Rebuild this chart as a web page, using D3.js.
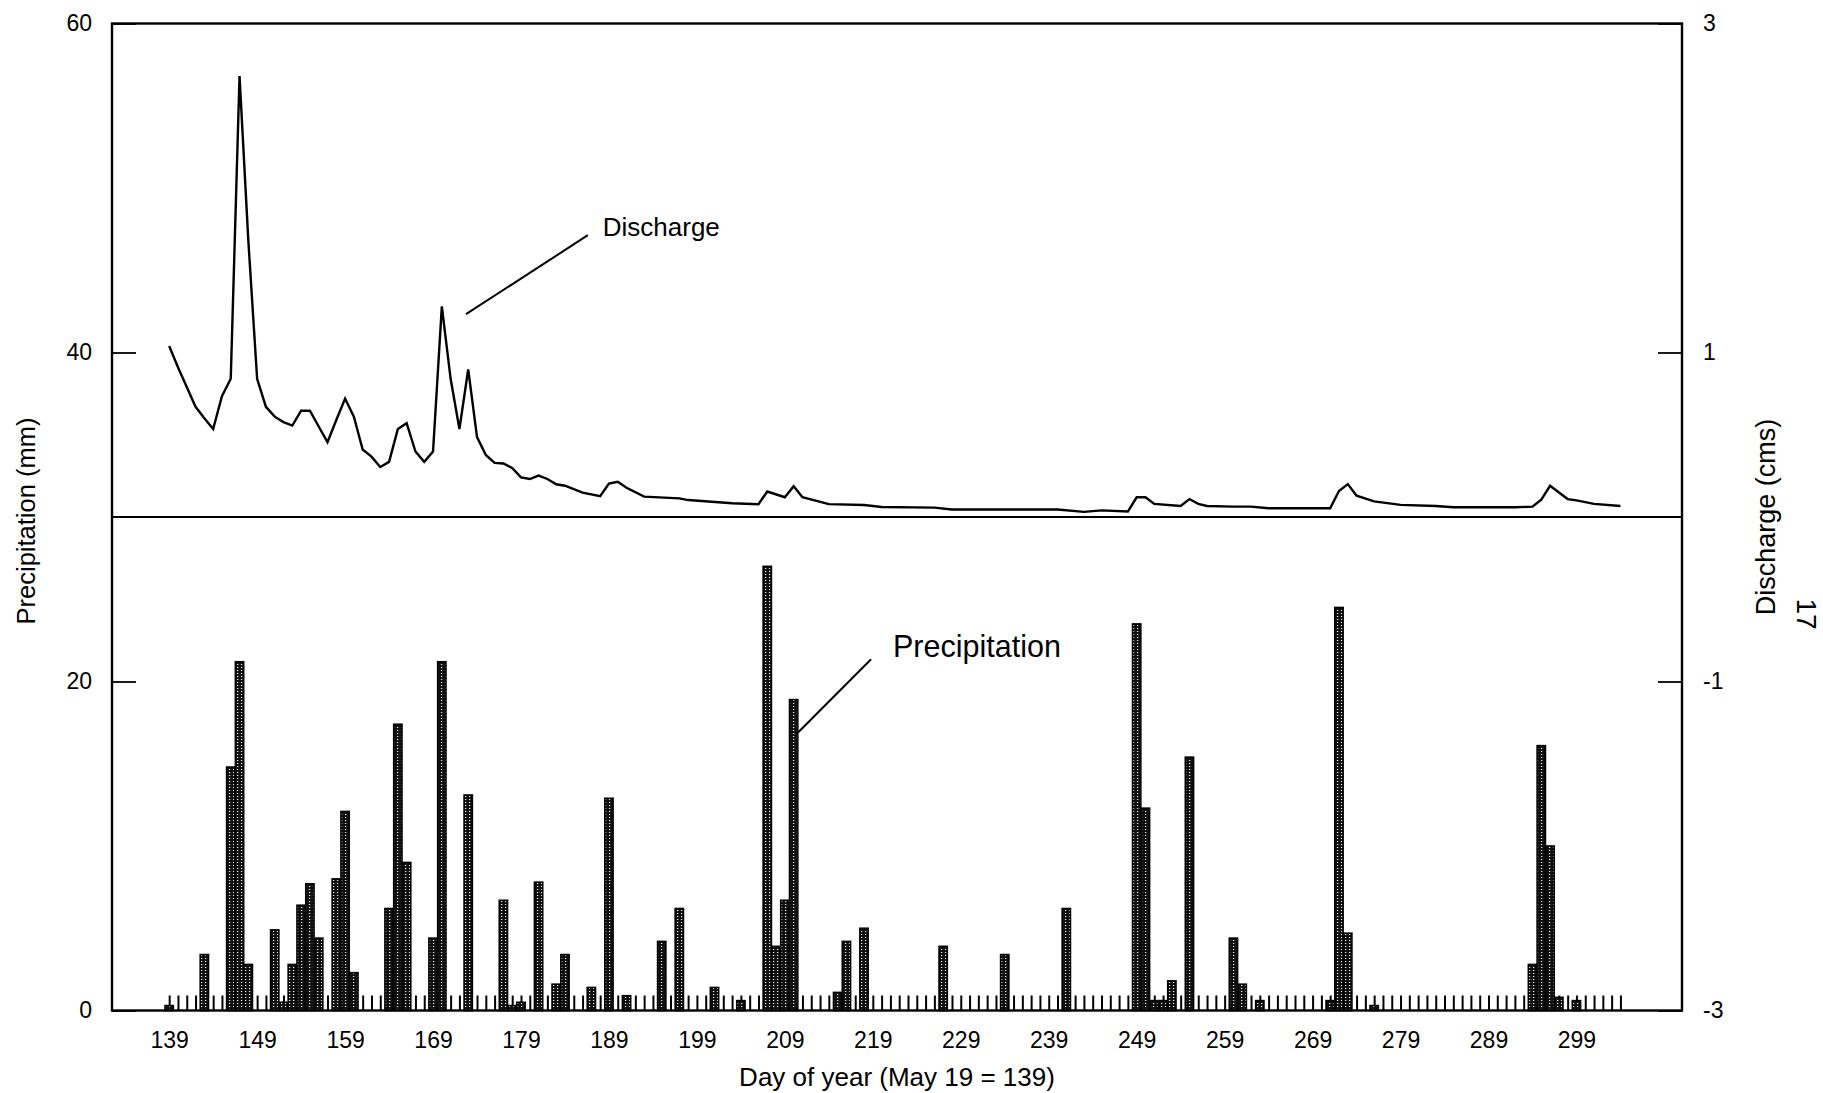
<!DOCTYPE html>
<html>
<head>
<meta charset="utf-8">
<script src="https://cdn.jsdelivr.net/npm/d3@7"></script>
<style>
  body { margin: 0; background: #fff; }
  text { font-family: "Liberation Sans", Arial, Helvetica, sans-serif; fill: #000; }
</style>
</head>
<body>
<div id="chart"></div>
<script>
// Daily precipitation (mm), only days with rain
const precipDays = [139, 143, 146, 147, 148, 151, 152, 153, 154, 155, 156, 158, 159, 160,
  164, 165, 166, 169, 170, 173, 177, 178, 179, 181, 183, 184, 187, 189, 191, 195, 197,
  201, 204, 207, 208, 209, 210, 215, 216, 218, 227, 234, 241, 249, 250, 251, 252, 253,
  255, 260, 261, 263, 271, 272, 273, 276, 294, 295, 296, 297, 299]
const precipValues = [0.3, 3.4, 14.8, 21.2, 2.8, 4.9, 0.5, 2.8, 6.4, 7.7, 4.4, 8.0, 12.1, 2.3,
  6.2, 17.4, 9.0, 4.4, 21.2, 13.1, 6.7, 0.3, 0.5, 7.8, 1.6, 3.4, 1.4, 12.9, 0.9, 4.2, 6.2,
  1.4, 0.6, 27.0, 3.9, 6.7, 18.9, 1.1, 4.2, 5.0, 3.9, 3.4, 6.2, 23.5, 12.3, 0.6, 0.6, 1.8,
  15.4, 4.4, 1.6, 0.6, 0.6, 24.5, 4.7, 0.3, 2.8, 16.1, 10.0, 0.8, 0.6]

// Discharge (cms), vertices
const dischargeDays = [139, 140, 141, 142, 143, 144, 145, 146, 147, 148, 149, 150, 151, 152,
  153, 154, 155, 156, 157, 158, 159, 160, 161, 162, 163, 164, 165, 166, 167, 168, 169, 170,
  171, 172, 173, 174, 175, 176, 177, 178, 179, 180, 181, 182, 183, 184, 186, 188, 189, 190,
  191, 193, 197, 198, 203, 206, 207, 209, 210, 211, 214, 218, 220, 226, 228, 234, 240, 243,
  245, 248, 249, 250, 251, 254, 255, 256, 257, 260, 262, 264, 271, 272, 273, 274, 276, 279,
  283, 285, 292, 294, 295, 296, 298, 299, 301, 304]
const dischargeValues = [1.04, 0.91, 0.79, 0.67, 0.60, 0.535, 0.735, 0.84, 2.68, 1.68, 0.84,
  0.67, 0.61, 0.577, 0.556, 0.646, 0.646, 0.55, 0.455, 0.59, 0.72, 0.61, 0.41, 0.367, 0.304,
  0.335, 0.535, 0.57, 0.398, 0.335, 0.398, 1.28, 0.84, 0.535, 0.897, 0.486, 0.377, 0.329,
  0.325, 0.298, 0.241, 0.231, 0.252, 0.231, 0.199, 0.19, 0.148, 0.127, 0.203, 0.214, 0.178,
  0.124, 0.113, 0.103, 0.084, 0.078, 0.155, 0.12, 0.187, 0.12, 0.078, 0.073, 0.061, 0.057,
  0.046, 0.046, 0.046, 0.031, 0.04, 0.033, 0.12, 0.12, 0.08, 0.067, 0.109, 0.08, 0.067,
  0.063, 0.063, 0.053, 0.053, 0.158, 0.2, 0.13, 0.095, 0.074, 0.067, 0.059, 0.059, 0.063,
  0.105, 0.19, 0.109, 0.101, 0.08, 0.067]

// Axis ticks
const xLabelDays = [139, 149, 159, 169, 179, 189, 199, 209, 219, 229, 239, 249, 259, 269, 279, 289, 299]
const dayTicks = d3.range(139, 305)
const precipTicks = [0, 20, 40, 60]
const dischargeTicks = [-3, -1, 1, 3]

;(function () {

  const svg = d3.select("#chart").append("svg")
      .attr("width", 1823)
      .attr("height", 1093)

  const plotLeft = 112, plotRight = 1682, plotTop = 23.5, plotBottom = 1010.5

  const x = d3.scaleLinear().domain([132.5, 311]).range([plotLeft, plotRight])
  const yP = d3.scaleLinear().domain([0, 60]).range([plotBottom, plotTop])
  const yD = d3.scaleLinear().domain([-3, 3]).range([plotBottom, plotTop])

  // stipple fill for the bars
  const pat = svg.append("defs").append("pattern")
      .attr("id", "stipple")
      .attr("patternUnits", "userSpaceOnUse")
      .attr("width", 4).attr("height", 3)
  pat.append("rect").attr("width", 4).attr("height", 3).attr("fill", "#111")
  pat.append("rect").attr("x", 1).attr("y", 1).attr("width", 1.2).attr("height", 1).attr("fill", "#fff")

  // little day ticks along the bottom
  svg.append("g")
      .attr("transform", `translate(0,${plotBottom})`)
      .call(d3.axisBottom(x).tickValues(dayTicks).tickSize(-15).tickFormat(""))
      .call(g => g.select(".domain").remove())
      .selectAll("line").attr("stroke-width", 2)

  // precipitation bars
  const bw = (x(1) - x(0)) * 0.94
  const precip = precipDays.map((d, i) => ({ day: d, v: precipValues[i] }))
  svg.append("g").selectAll("rect")
      .data(precip)
      .join("rect")
      .attr("x", d => x(d.day) - bw / 2)
      .attr("y", d => yP(d.v))
      .attr("width", bw)
      .attr("height", d => yP(0) - yP(d.v))
      .attr("fill", "url(#stipple)")
      .attr("stroke", "#000")
      .attr("stroke-width", 1.6)

  // discharge line
  const discharge = dischargeDays.map((d, i) => ({ day: d, v: dischargeValues[i] }))
  svg.append("path")
      .datum(discharge)
      .attr("fill", "none")
      .attr("stroke", "#000")
      .attr("stroke-width", 2.4)
      .attr("d", d3.line().x(d => x(d.day)).y(d => yD(d.v)))

  // frame and zero-discharge line
  svg.append("rect")
      .attr("x", plotLeft).attr("y", plotTop)
      .attr("width", plotRight - plotLeft).attr("height", plotBottom - plotTop)
      .attr("fill", "none").attr("stroke", "#000").attr("stroke-width", 2.4)
  svg.append("line")
      .attr("x1", plotLeft).attr("x2", plotRight)
      .attr("y1", yD(0)).attr("y2", yD(0))
      .attr("stroke", "#000").attr("stroke-width", 2)

  // axes
  const leftAxis = svg.append("g")
      .attr("transform", `translate(${plotLeft},0)`)
      .call(d3.axisLeft(yP).tickValues(precipTicks).tickSize(-24).tickPadding(20))
  const rightAxis = svg.append("g")
      .attr("transform", `translate(${plotRight},0)`)
      .call(d3.axisRight(yD).tickValues(dischargeTicks).tickSize(-24).tickPadding(21)
        .tickFormat(d => d < 0 ? "-" + Math.abs(d) : d))
  const bottomAxis = svg.append("g")
      .attr("transform", `translate(0,${plotBottom})`)
      .call(d3.axisBottom(x).tickValues(xLabelDays).tickSize(0).tickPadding(21))

  ;[leftAxis, rightAxis, bottomAxis].forEach(g => {
    g.attr("font-family", null).attr("font-size", null)
    g.select(".domain").remove()
    g.selectAll("line").attr("stroke-width", 1.8)
    g.selectAll("text").style("font-size", "23px")
  })

  // axis titles
  svg.append("text")
      .attr("x", 897).attr("y", 1086)
      .attr("text-anchor", "middle")
      .style("font-size", "26px")
      .text("Day of year (May 19 = 139)")
  svg.append("text")
      .attr("transform", `translate(35,${yD(0) + 4}) rotate(-90)`)
      .attr("text-anchor", "middle")
      .style("font-size", "25.5px")
      .text("Precipitation (mm)")
  svg.append("text")
      .attr("transform", `translate(1775,${yD(0)}) rotate(-90)`)
      .attr("text-anchor", "middle")
      .style("font-size", "27px")
      .text("Discharge (cms)")
  svg.append("text")
      .attr("transform", "translate(1797,614) rotate(90)")
      .attr("text-anchor", "middle")
      .style("font-size", "28px")
      .text("17")

  // callouts
  svg.append("line")
      .attr("x1", x(172.75)).attr("y1", yD(1.233))
      .attr("x2", x(186.6)).attr("y2", yD(1.713))
      .attr("stroke", "#000").attr("stroke-width", 2)
  svg.append("text")
      .attr("x", x(188.3)).attr("y", yD(1.707))
      .style("font-size", "26px")
      .text("Discharge")

  svg.append("line")
      .attr("x1", x(210.5)).attr("y1", yP(16.9))
      .attr("x2", x(218.8)).attr("y2", yP(21.35))
      .attr("stroke", "#000").attr("stroke-width", 2)
  svg.append("text")
      .attr("x", x(221.3)).attr("y", yP(21.5))
      .style("font-size", "30.5px")
      .text("Precipitation")
})();
</script>
</body>
</html>
